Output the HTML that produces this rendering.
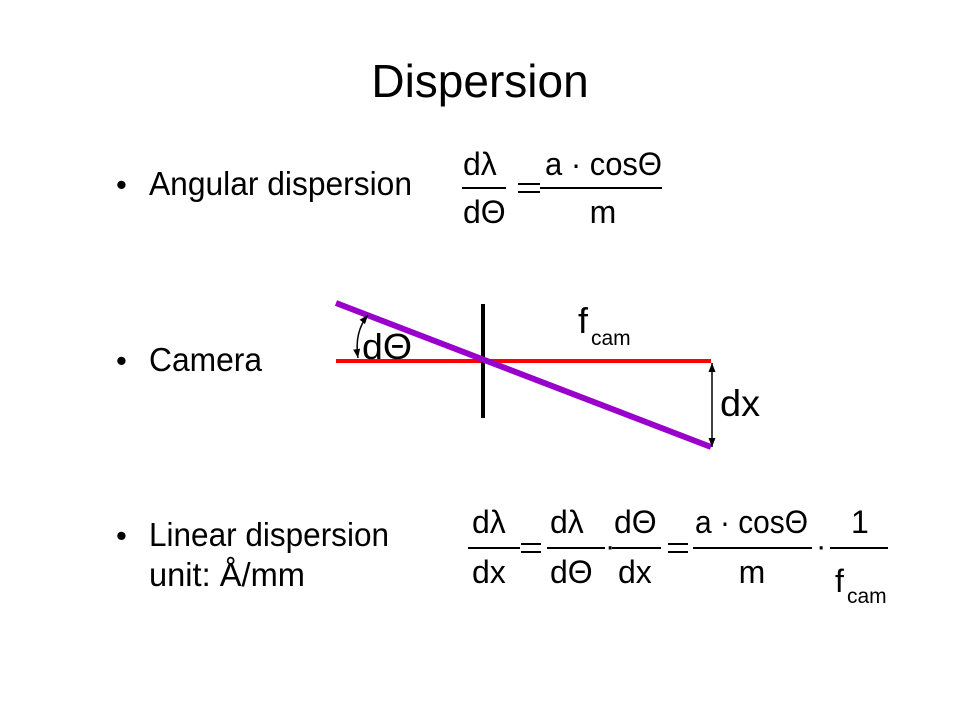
<!DOCTYPE html>
<html><head><meta charset="utf-8"><style>
html,body{margin:0;padding:0;background:#fff;}
svg{display:block;}
text{font-family:"Liberation Sans",sans-serif;fill:#000;}
</style></head><body>
<svg width="961" height="721" viewBox="0 0 961 721" xmlns="http://www.w3.org/2000/svg">
<defs>
<marker id="ah" markerWidth="10" markerHeight="10" refX="9" refY="5" orient="auto-start-reverse" markerUnits="userSpaceOnUse">
<path d="M0,1.5 L9,5 L0,8.5 Z" fill="#000"/>
</marker>
</defs>
<text x="480" y="97" font-size="46" text-anchor="middle">Dispersion</text>

<text x="116" y="195" font-size="31">•</text>
<text x="149" y="195" font-size="33" textLength="263" lengthAdjust="spacingAndGlyphs">Angular dispersion</text>
<text x="116" y="371" font-size="31">•</text>
<text x="149" y="371" font-size="33" textLength="113" lengthAdjust="spacingAndGlyphs">Camera</text>
<text x="116" y="546" font-size="31">•</text>
<text x="149" y="546" font-size="33" textLength="240" lengthAdjust="spacingAndGlyphs">Linear dispersion</text>
<text x="149" y="586" font-size="33" textLength="156" lengthAdjust="spacingAndGlyphs">unit: Å/mm</text>

<g stroke="#000" stroke-width="2">
<line x1="462" y1="188" x2="506" y2="188"/>
<line x1="518" y1="184" x2="540" y2="184"/>
<line x1="518" y1="192" x2="540" y2="192"/>
<line x1="540" y1="188" x2="662" y2="188"/>
<line x1="468" y1="548" x2="520" y2="548"/>
<line x1="521" y1="544" x2="541" y2="544"/>
<line x1="521" y1="552" x2="541" y2="552"/>
<line x1="547" y1="548" x2="605" y2="548"/>
<line x1="612" y1="548" x2="661" y2="548"/>
<line x1="668" y1="544" x2="688" y2="544"/>
<line x1="668" y1="552" x2="688" y2="552"/>
<line x1="693" y1="548" x2="812" y2="548"/>
<line x1="830" y1="548" x2="888" y2="548"/>
</g>

<text x="463" y="175" font-size="32">dλ</text>
<text x="463" y="223" font-size="32">dΘ</text>
<text x="545" y="175" font-size="32" textLength="117" lengthAdjust="spacingAndGlyphs">a · cosΘ</text>
<text x="603" y="223" font-size="32" text-anchor="middle">m</text>

<line x1="336" y1="361" x2="711" y2="361" stroke="#ff0000" stroke-width="4"/>
<line x1="483" y1="304" x2="483" y2="418" stroke="#000" stroke-width="4"/>
<line x1="336" y1="303" x2="711" y2="447" stroke="#9900cc" stroke-width="6"/>
<path d="M358,358 Q354,332 368,315" fill="none" stroke="#000" stroke-width="1.5" marker-end="url(#ah)" marker-start="url(#ah)"/>
<text x="362" y="359" font-size="36" textLength="50" lengthAdjust="spacingAndGlyphs">dΘ</text>
<text x="578" y="333" font-size="36">f</text>
<text x="591" y="345" font-size="21">cam</text>
<line x1="712" y1="363" x2="712" y2="447" stroke="#000" stroke-width="1.5" marker-end="url(#ah)" marker-start="url(#ah)"/>
<text x="720" y="416" font-size="37" textLength="40" lengthAdjust="spacingAndGlyphs">dx</text>

<text x="472" y="533" font-size="32">dλ</text>
<text x="472" y="583" font-size="32">dx</text>
<text x="550" y="533" font-size="32">dλ</text>
<text x="550" y="583" font-size="32">dΘ</text>
<text x="605" y="556" font-size="31">·</text>
<text x="614" y="533" font-size="32">dΘ</text>
<text x="618" y="583" font-size="32">dx</text>
<text x="695" y="533" font-size="32" textLength="113" lengthAdjust="spacingAndGlyphs">a · cosΘ</text>
<text x="752" y="583" font-size="32" text-anchor="middle">m</text>
<text x="816" y="556" font-size="31">·</text>
<text x="851" y="533" font-size="32">1</text>
<text x="835" y="592" font-size="32">f</text>
<text x="847" y="603" font-size="21">cam</text>
</svg>
</body></html>
